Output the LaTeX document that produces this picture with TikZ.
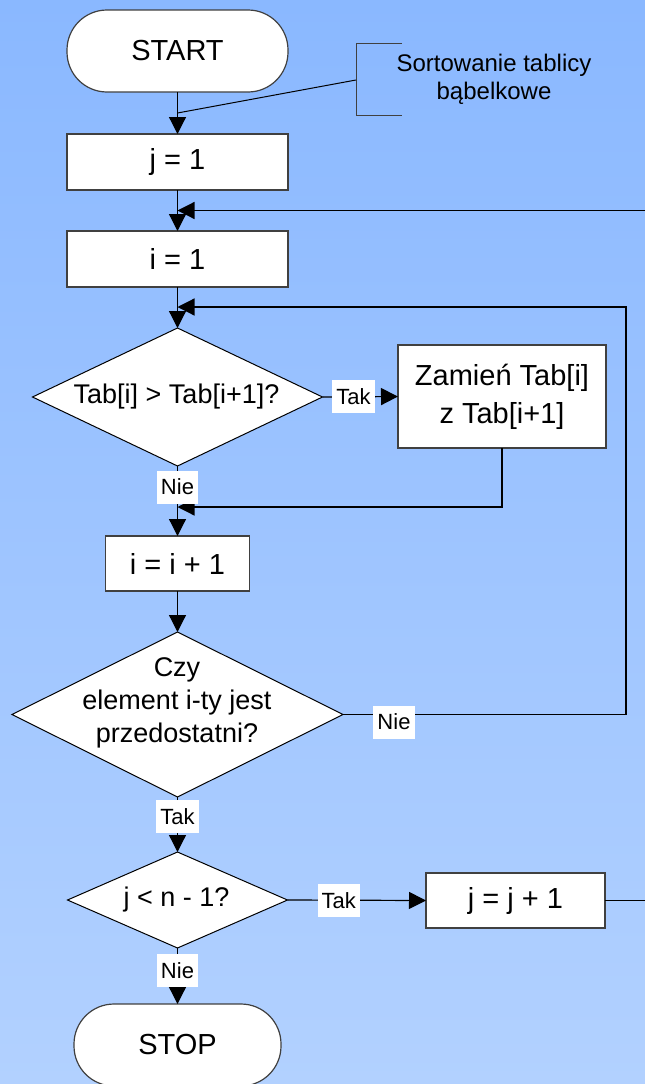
\documentclass[tikz,border=0pt]{standalone}
\usepackage{fontspec}
\setmainfont{Liberation Sans}
\usetikzlibrary{shapes.geometric,arrows.meta}
\definecolor{bgtop}{RGB}{138,184,255}
\definecolor{bgbot}{RGB}{178,209,255}
\definecolor{edgegray}{RGB}{64,64,64}
\begin{document}
\begin{tikzpicture}[x=1pt,y=-1pt,
  conn/.style={line width=1.2pt,black},
  arr/.style={conn,-{Triangle[length=17pt,width=17pt]}},
  procbox/.style={draw=edgegray,fill=white,line width=1.2pt,inner sep=0pt,outer sep=0pt,
    font=\fontsize{29}{38}\selectfont,align=center},
  term/.style={procbox,rounded corners=40pt},
  decis/.style={diamond,draw=black,fill=white,line width=1pt,inner sep=0pt,outer sep=0pt},
  dtext/.style={font=\fontsize{27}{33}\selectfont,align=center,inner sep=0pt},
  lbl/.style={fill=white,inner xsep=4pt,inner ysep=0pt,minimum height=33pt,
    font=\fontsize{22}{26}\selectfont},
  notetext/.style={font=\fontsize{24}{28}\selectfont,align=center,inner sep=0pt}
]
\useasboundingbox (0,0) rectangle (645,1084);
\clip (0,0) rectangle (645,1084);
\shade[top color=bgtop,bottom color=bgbot] (0,0) rectangle (645,1084);

% nodes
\node[term,minimum width=221pt,minimum height=82pt] (start) at (177.5,51) {START};
\node[procbox,minimum width=221pt,minimum height=56pt] (j1) at (177.5,162) {j = 1};
\node[procbox,minimum width=221pt,minimum height=56pt] (i1) at (177.5,259) {i = 1};
\node[decis,minimum width=290pt,minimum height=138pt] (d1) at (177.5,397) {};
\node[dtext] (d1t) at (176.5,397) {Tab[i] > Tab[i+1]?};
\node[procbox,minimum width=208pt,minimum height=103pt] (zam) at (502,396.5) {Zamień Tab[i]\\z Tab[i+1]};
\node[procbox,minimum width=144pt,minimum height=55pt] (inc) at (177.5,563.5) {i = i + 1};
\node[decis,minimum width=331pt,minimum height=165pt] (d2) at (177.5,714.5) {};
\node[dtext] (d2t) at (177,703) {Czy\\element i-ty jest\\przedostatni?};
\node[decis,minimum width=220pt,minimum height=96pt] (d3) at (177.5,900) {};
\node[dtext] (d3t) at (176.5,900) {j < n - 1?};
\node[procbox,minimum width=179pt,minimum height=55pt] (jinc) at (515.5,900.5) {j = j + 1};
\node[term,minimum width=207pt,minimum height=82pt] (stop) at (177.5,1045) {STOP};

% annotation
\node[notetext] (note) at (494,79) {Sortowanie tablicy\\bąbelkowe};
\coordinate (brt) at (402,43);
\coordinate (brtl) at (356,43);
\coordinate (brm) at (356,80);
\coordinate (brbl) at (356,115);
\coordinate (brb) at (402,115);
\coordinate (anchorpt) at (177.5,113);
\draw[edgegray,line width=1pt] (brt) -- (brtl) -- (brbl) -- (brb);
\draw[black,line width=1pt] (brm) -- (anchorpt);

% helper coordinates
\coordinate (m1) at (177.5,507);
\coordinate (m2) at (177.5,307);
\coordinate (m3) at (177.5,210.5);
\coordinate (c2) at (626,714.5);
\coordinate (c3) at (670,900.5);

% connectors
\draw[arr] (start) -- (j1);
\draw[arr] (j1) -- (i1);
\draw[arr] (i1) -- (d1);
\draw[arr] (d1.east) -- (zam.west) node[lbl,pos=0.41] (ltak1) {Tak};
\draw[conn] (zam.south) |- ([xshift=2pt]m1);
\draw[arr] ([xshift=20pt]m1) -- (m1);
\draw[arr] (d1.south) -- (inc.north) node[lbl,pos=0.3] (lnie1) {Nie};
\draw[arr] (inc) -- (d2);
\draw[arr] (d2.east) -- (c2) |- (m2);
\node[lbl] (lnie2) at (394,722) {Nie};
\draw[arr] (d2.south) -- (d3.north) node[lbl,pos=0.36] (ltak2) {Tak};
\draw[arr] (d3.east) -- (jinc.west) node[lbl,pos=0.37] (ltak3) {Tak};
\draw[arr] (jinc.east) -- (c3) |- (m3);
\draw[arr] (d3.south) -- (stop.north) node[lbl,pos=0.4] (lnie3) {Nie};
\end{tikzpicture}
\end{document}
